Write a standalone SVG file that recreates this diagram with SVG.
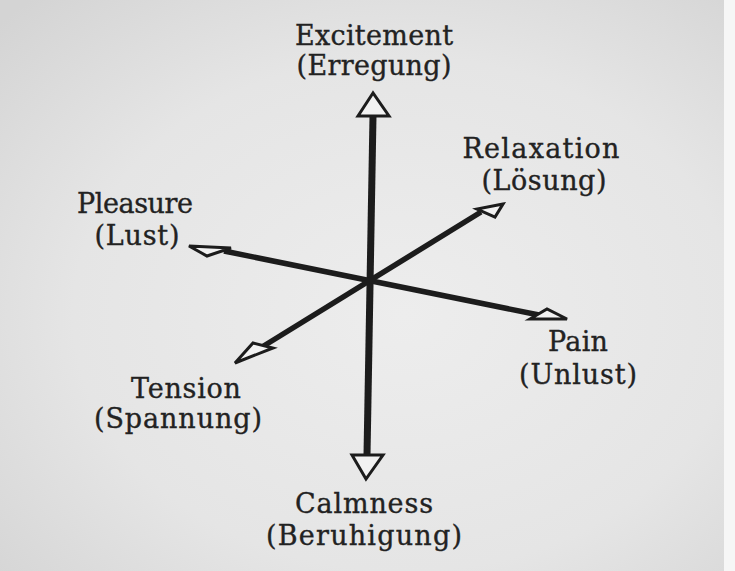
<svg xmlns="http://www.w3.org/2000/svg" width="735" height="571" viewBox="0 0 735 571">
  <defs>
    <radialGradient id="paper" cx="0.55" cy="0.55" r="0.75">
      <stop offset="0" stop-color="#ededed"/>
      <stop offset="0.6" stop-color="#e5e5e5"/>
      <stop offset="1" stop-color="#d4d4d4"/>
    </radialGradient>
  </defs>
  <style>
    .lbl { font-family: "DejaVu Serif", "Liberation Serif", serif; font-size: 27px; fill: #222222; stroke: #222222; stroke-width: 0.35; text-anchor: middle; }
    .axis { stroke: #1c1c1c; stroke-linecap: butt; fill: none; }
    .head { fill: #f2f2f2; stroke: #1c1c1c; stroke-width: 3; stroke-linejoin: miter; }
  </style>
  <rect x="0" y="0" width="735" height="571" fill="url(#paper)"/>
  <rect x="724" y="0" width="11" height="571" fill="#f6f6f6"/>

  <g id="connectors">
    <line class="axis" x1="373" y1="116" x2="367" y2="455" stroke-width="7"/>
    <line class="axis" x1="224" y1="251" x2="539" y2="315" stroke-width="5.5"/>
    <line class="axis" x1="262" y1="347" x2="481" y2="212" stroke-width="5.5"/>
    <polygon class="head" points="373,93 358,116 389,116"/>
    <polygon class="head" points="352,455 383,455 366,479"/>
    <polygon class="head" points="189,246 231,248 207,256"/>
    <polygon class="head" points="503,204 477,209 495,217"/>
    <polygon class="head" points="530,319 547,309 567,319"/>
    <polygon class="head" points="235,363 253,343 273,348"/>
  </g>

  <g id="excitement">
    <text class="lbl" x="374" y="45" textLength="158">Excitement</text>
    <text class="lbl" x="374" y="75" textLength="155">(Erregung)</text>
  </g>
  <g id="relaxation">
    <text class="lbl" x="541" y="158" textLength="157">Relaxation</text>
    <text class="lbl" x="544" y="190" textLength="125">(Lösung)</text>
  </g>
  <g id="pleasure">
    <text class="lbl" x="135" y="213" textLength="116">Pleasure</text>
    <text class="lbl" x="137" y="245" textLength="85">(Lust)</text>
  </g>
  <g id="pain">
    <text class="lbl" x="578" y="351" textLength="60">Pain</text>
    <text class="lbl" x="578" y="384" textLength="118">(Unlust)</text>
  </g>
  <g id="tension">
    <text class="lbl" x="186" y="398" textLength="110">Tension</text>
    <text class="lbl" x="178" y="428" textLength="168">(Spannung)</text>
  </g>
  <g id="calmness">
    <text class="lbl" x="364" y="513" textLength="138">Calmness</text>
    <text class="lbl" x="364" y="545" textLength="196">(Beruhigung)</text>
  </g>
</svg>
